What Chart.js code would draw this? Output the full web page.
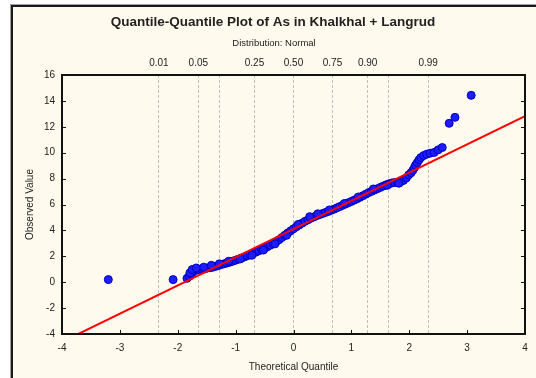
<!DOCTYPE html>
<html>
<head>
<meta charset="utf-8">
<style>
  html, body { margin: 0; padding: 0; background: #fff; }
  #qq { display: block; }
</style>
<script src="https://cdn.jsdelivr.net/npm/chart.js@4/dist/chart.umd.min.js"></script>
</head>
<body>
<canvas id="qq" width="536" height="378"></canvas>
<script>
// Q-Q plot of As (Khalkhal + Langrud)

// theoretical quantile (x) and observed value (y) of each plotted point
const quantX = [
  -3.20, -2.08,
  -1.84, -1.80, -1.77, -1.74, -1.71, -1.66, -1.62, -1.58, -1.54, -1.50,
  -1.45, -1.40, -1.35, -1.30, -1.25, -1.20, -1.15, -1.10, -1.05, -1.00,
  -0.95, -0.90, -0.85, -0.80, -0.75, -0.70, -0.65, -0.60, -0.55, -0.50,
  -0.45, -0.40, -0.35, -0.30, -0.25, -0.20, -0.15, -0.10, -0.05, 0.00,
  0.05, 0.10, 0.15, 0.20, 0.25, 0.30, 0.35, 0.40, 0.45, 0.50,
  0.55, 0.60, 0.65, 0.70, 0.75, 0.80, 0.85, 0.90, 0.95, 1.00,
  1.05, 1.10, 1.15, 1.20, 1.25, 1.30, 1.35, 1.40, 1.45, 1.50,
  1.55, 1.60, 1.65, 1.70, 1.75, 1.80, 1.85, 1.90, 1.95, 1.99,
  2.03, 2.06, 2.09, 2.11, 2.14, 2.17, 2.20, 2.25, 2.30, 2.36,
  2.43, 2.50, 2.57, 2.69, 2.79, 3.07,
  // points sitting off the centre of the band
  -1.79, -1.75, -1.68, -1.55, -1.42, -1.28, -1.12, -0.92, -0.72, -0.52,
  -0.32, -0.12, 0.08, 0.28, 0.42, 0.62, 0.88, 1.12, 1.38, 1.62, 1.82
];
const observedY = [
  0.20, 0.20,
  0.30, 0.45, 0.62, 0.78, 0.90, 0.95, 0.98, 1.00, 1.02, 1.08,
  1.12, 1.15, 1.22, 1.28, 1.36, 1.42, 1.48, 1.55, 1.62, 1.70,
  1.78, 1.86, 1.95, 2.04, 2.12, 2.22, 2.32, 2.42, 2.52, 2.62,
  2.74, 2.86, 2.98, 3.12, 3.28, 3.45, 3.62, 3.80, 3.96, 4.12,
  4.28, 4.42, 4.56, 4.70, 4.82, 4.94, 5.04, 5.14, 5.22, 5.30,
  5.38, 5.46, 5.55, 5.64, 5.74, 5.84, 5.94, 6.04, 6.14, 6.24,
  6.34, 6.45, 6.56, 6.68, 6.80, 6.92, 7.02, 7.12, 7.22, 7.32,
  7.42, 7.52, 7.60, 7.66, 7.70, 7.72, 7.76, 7.86, 8.05, 8.28,
  8.45, 8.62, 8.85, 9.05, 9.25, 9.45, 9.62, 9.78, 9.88, 9.96,
  10.02, 10.22, 10.40, 12.27, 12.73, 14.43,
  0.72, 0.98, 1.10, 1.16, 1.30, 1.42, 1.62, 1.80, 2.08, 2.48,
  2.96, 3.62, 4.46, 5.06, 5.28, 5.58, 6.08, 6.58, 7.20, 7.48, 7.64
];

// fitted normal reference line, end points
const fitX = [-4, 4];
const fitY = [-4.61, 12.83];

// probability axis on top
const probZ = [-2.326, -1.645, -1.282, -0.674, 0, 0.674, 1.282, 1.645, 2.326];
const probLabels = ['0.01', '0.05', '', '0.25', '0.50', '0.75', '0.90', '', '0.99'];

const FONT = 'Arial, "Liberation Sans", sans-serif';
const INK = '#222222';

// page frame, titles, plot border and inward tick marks
const decor = {
  id: 'decor',
  beforeDraw(chart) {
    const { ctx, width, height } = chart;
    ctx.save();
    ctx.fillStyle = '#ffffff';
    ctx.fillRect(0, 0, width, height);
    ctx.fillStyle = '#fffaee';
    ctx.fillRect(12, 6, width - 12, height - 6);
    ctx.fillStyle = '#a0a0a0';
    ctx.fillRect(10, 4, 1, height - 4);
    ctx.fillRect(10, 4, width - 10, 1);
    ctx.fillStyle = '#1a1a1a';
    ctx.fillRect(11, 5, 2, height - 5);
    ctx.fillRect(11, 5, width - 11, 2);
    ctx.restore();
  },
  afterDraw(chart) {
    const { ctx, chartArea: a, scales } = chart;
    ctx.save();
    ctx.fillStyle = INK;
    ctx.textAlign = 'center';
    ctx.textBaseline = 'middle';
    ctx.font = 'bold 13.5px ' + FONT;
    ctx.fillText('Quantile-Quantile Plot of As in Khalkhal + Langrud', 273, 22);
    ctx.font = '9.5px ' + FONT;
    ctx.fillText('Distribution: Normal', 274, 43);
    ctx.font = '10px ' + FONT;
    ctx.fillText('Theoretical Quantile', (a.left + a.right) / 2, 367);
    ctx.translate(30, (a.top + a.bottom) / 2);
    ctx.rotate(-Math.PI / 2);
    ctx.fillText('Observed Value', 0, 0);
    ctx.restore();

    ctx.save();
    ctx.strokeStyle = '#111111';
    ctx.lineWidth = 1;
    ctx.beginPath();
    scales.x.ticks.forEach((t) => {
      const px = Math.round(scales.x.getPixelForValue(t.value)) + 0.5;
      ctx.moveTo(px, a.bottom);
      ctx.lineTo(px, a.bottom - 4);
    });
    scales.y.ticks.forEach((t) => {
      const py = Math.round(scales.y.getPixelForValue(t.value)) + 0.5;
      ctx.moveTo(a.left, py);
      ctx.lineTo(a.left + 4, py);
      ctx.moveTo(a.right, py);
      ctx.lineTo(a.right - 4, py);
    });
    ctx.stroke();
    ctx.lineWidth = 2;
    ctx.strokeRect(a.left, a.top, a.right - a.left, a.bottom - a.top);
    ctx.restore();
  },
};

new Chart(document.getElementById('qq').getContext('2d'), {
  data: {
    datasets: [
      {
        type: 'line',
        label: 'fit',
        data: fitX.map((x, i) => ({ x, y: fitY[i] })),
        borderColor: '#ff0000',
        borderWidth: 2,
        pointRadius: 0,
        fill: false,
        order: 0,
      },
      {
        type: 'scatter',
        label: 'As',
        data: quantX.map((x, i) => ({ x, y: observedY[i] })),
        pointRadius: 4,
        borderWidth: 1,
        backgroundColor: '#1c1cff',
        borderColor: '#0000c0',
        order: 1,
      },
    ],
  },
  options: {
    responsive: false,
    animation: false,
    events: [],
    layout: { padding: { top: 55, left: 14, right: 11, bottom: 0 } },
    plugins: { legend: { display: false }, tooltip: { enabled: false } },
    scales: {
      x: {
        type: 'linear',
        position: 'bottom',
        min: -4,
        max: 4,
        grid: { display: false, drawTicks: false },
        border: { display: false },
        ticks: { stepSize: 1, color: INK, font: { family: FONT, size: 10 }, padding: 8, maxRotation: 0 },
        afterFit: (s) => { s.height = 44; },
      },
      xTop: {
        type: 'linear',
        position: 'top',
        min: -4,
        max: 4,
        afterBuildTicks: (s) => { s.ticks = probZ.map((v) => ({ value: v })); },
        grid: { display: true, drawTicks: false, color: '#bdbdbd', lineWidth: 1 },
        border: { display: false, dash: [3, 2] },
        ticks: {
          autoSkip: false,
          maxRotation: 0,
          color: INK,
          font: { family: FONT, size: 10 },
          padding: 6,
          callback: (v, i) => probLabels[i],
        },
        afterFit: (s) => { s.height = 20; },
      },
      y: {
        type: 'linear',
        min: -4,
        max: 16,
        grid: { display: false, drawTicks: false },
        border: { display: false },
        ticks: { stepSize: 2, color: INK, font: { family: FONT, size: 10 }, padding: 7 },
        afterFit: (s) => { s.width = 48; },
      },
    },
  },
  plugins: [decor],
});
</script>
</body>
</html>
